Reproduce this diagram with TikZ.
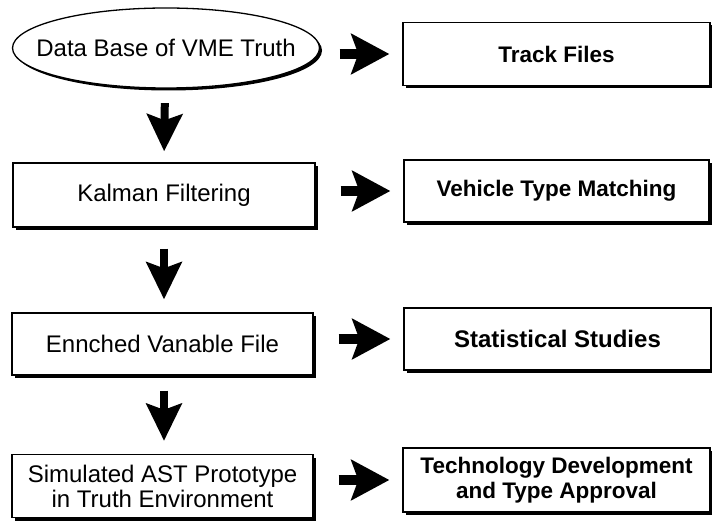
\documentclass[tikz,border=0pt]{standalone}
\usepackage{fontspec}
\setmainfont{Liberation Sans}
\usetikzlibrary{arrows.meta,shadows}
\begin{document}
\begin{tikzpicture}[x=1pt,y=-1pt,
  box/.style={draw, line width=1.3pt, fill=white, rectangle, inner sep=0pt,
    align=center, font=\fontsize{24}{25}\selectfont,
    drop shadow={shadow xshift=2.5pt, shadow yshift=-3pt, fill=black, opacity=1}},
  ovaltext/.style={rectangle, inner sep=0pt, font=\fontsize{24}{25}\selectfont},
  rbox/.style={box, font=\fontsize{22.5}{25}\selectfont\bfseries},
  harrow/.style={line width=10pt, -{Stealth[length=38pt, width=40pt, inset=7pt]}},
  varrow/.style={line width=8pt, -{Stealth[length=37pt, width=35pt, inset=6pt]}}
]
\useasboundingbox (0,0) rectangle (712,521);

% ellipse outline with shadow
\fill[black] (168.5,50.5) ellipse [x radius=153.5pt, y radius=40pt];
\draw[line width=1.3pt, fill=white] (166,48) ellipse [x radius=153.5pt, y radius=40pt];
\node[ovaltext, minimum width=307pt, minimum height=80pt] (e) at (166,48) {Data Base of VME Truth};

\node[box, minimum width=302pt, minimum height=64pt] (k) at (164,195) {Kalman Filtering};
\node[box, minimum width=301pt, minimum height=62pt] (en) at (162.5,344) {Ennched Vanable File};
\node[box, minimum width=301pt, minimum height=63pt] (sim) at (162.5,486) {Simulated AST Prototype\\in Truth Environment};

\node[rbox, minimum width=307pt, minimum height=63pt] (t) at (556.5,54) {Track Files};
\node[rbox, minimum width=305pt, minimum height=62pt] (v) at (556.5,191) {Vehicle Type Matching};
\node[rbox, minimum width=307pt, minimum height=62pt, font=\fontsize{24}{25}\selectfont\bfseries] (s) at (557.5,339) {Statistical Studies};
\node[rbox, minimum width=307pt, minimum height=64pt] (tech) at (556.5,480) {Technology Development\\and Type Approval};

\draw[harrow, shorten <=20pt, shorten >=13pt] (e.east |- t.west) -- (t.west);
\draw[harrow, shorten <=25pt, shorten >=13pt] (k.east |- v.west) -- (v.west);
\draw[harrow, shorten <=25pt, shorten >=13pt] (en.east |- s.west) -- (s.west);
\draw[harrow, shorten <=25pt, shorten >=13pt] (sim.east |- tech.west) -- (tech.west);

\draw[varrow, shorten <=15pt, shorten >=11pt] ([xshift=-1pt]e.south) -- (k.north);
\draw[varrow, shorten <=21pt, shorten >=13pt] (k.south) -- (k.south |- en.north);
\draw[varrow, shorten <=15pt, shorten >=13pt] (k.south |- en.south) -- (k.south |- sim.north);
\end{tikzpicture}
\end{document}
